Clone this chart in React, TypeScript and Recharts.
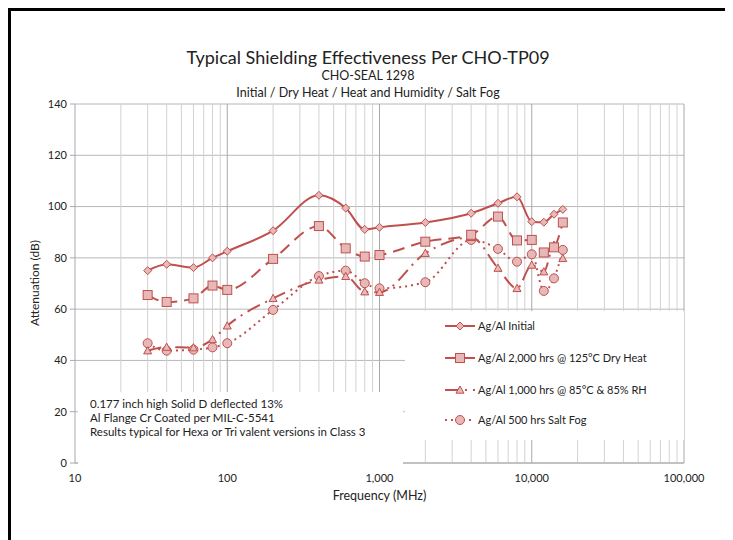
import React from 'react';
import { LineChart, Line, XAxis, YAxis, CartesianGrid, ReferenceLine, Legend } from 'recharts';

const frequencies = [30, 40, 60, 80, 100, 200, 400, 600, 800, 1000, 2000, 4000, 6000, 8000, 10000, 12000, 14000, 16000];
const initial = [75, 77.5, 76.2, 80, 82.6, 90.6, 104.4, 99.4, 91.1, 91.9, 93.8, 97.4, 101.3, 103.8, 94.1, 93.9, 97, 98.9];
const dryHeat = [65.5, 62.8, 64.2, 69.2, 67.5, 79.6, 92.4, 83.7, 80.5, 81.1, 86.3, 89, 96.1, 86.8, 87, 82.1, 84.1, 93.8];
const heatHumidity = [43.8, 45.2, 45, 48.2, 53.5, 64.2, 71.4, 72.8, 66.8, 66.6, 81.8, 88, 76, 68.1, 77.2, 74.6, 85, 79.8];
const saltFog = [46.7, 43.8, 44.2, 45.1, 46.7, 59.7, 72.9, 75, 70.1, 68.1, 70.5, 87, 83.5, 78.5, 81.4, 67.1, 72, 83.1];

const xTicks = [10, 100, 1000, 10000, 100000];
const yTicks = [0, 20, 40, 60, 80, 100, 120, 140];
const majorGrid = [100, 1000, 10000, 100000];
const minorGrid = [
  20, 30, 40, 50, 60, 70, 80, 90,
  200, 300, 400, 500, 600, 700, 800, 900,
  2000, 3000, 4000, 5000, 6000, 7000, 8000, 9000,
  20000, 30000, 40000, 50000, 60000, 70000, 80000, 90000,
];

const seriesNames = [
  'Ag/Al Initial',
  'Ag/Al 2,000 hrs @ 125°C Dry Heat',
  'Ag/Al 1,000 hrs @ 85°C & 85% RH',
  'Ag/Al 500 hrs Salt Fog',
];
const noteLines = [
  '0.177 inch high Solid D deflected 13%',
  'Al Flange Cr Coated per MIL-C-5541',
  'Results typical for Hexa or Tri valent versions in Class 3',
];

const data = frequencies.map((f, i) => ({
  f,
  initial: initial[i],
  dryHeat: dryHeat[i],
  heatHumidity: heatHumidity[i],
  saltFog: saltFog[i],
}));

const RED = '#c0504d';
const FILL = '#e6b9b8';
const FONT = 'Lato, "Open Sans", sans-serif';
const TEXT = '#222';

const Diamond = (p: any) => {
  const { cx, cy } = p;
  if (cx == null || cy == null) return null;
  const r = 4;
  return <path d={`M${cx},${cy - r}L${cx + r},${cy}L${cx},${cy + r}L${cx - r},${cy}Z`} fill={FILL} stroke={RED} strokeWidth={1} />;
};
const Square = (p: any) => {
  const { cx, cy } = p;
  if (cx == null || cy == null) return null;
  const r = 4.5;
  return <rect x={cx - r} y={cy - r} width={2 * r} height={2 * r} fill={FILL} stroke={RED} strokeWidth={1} />;
};
const Triangle = (p: any) => {
  const { cx, cy } = p;
  if (cx == null || cy == null) return null;
  const r = 4;
  return <path d={`M${cx},${cy - r}L${cx + r},${cy + r * 0.8}L${cx - r},${cy + r * 0.8}Z`} fill={FILL} stroke={RED} strokeWidth={1} />;
};
const Circle = (p: any) => {
  const { cx, cy } = p;
  if (cx == null || cy == null) return null;
  return <circle cx={cx} cy={cy} r={4.5} fill={FILL} stroke={RED} strokeWidth={1} />;
};

const styles = [
  { dash: undefined as string | undefined, Marker: Diamond },
  { dash: '12 7', Marker: Square },
  { dash: '14 6 2 6', Marker: Triangle },
  { dash: '2 4', Marker: Circle },
];

const LegendBox = () => (
  <div style={{ position: 'relative', width: 279, height: 129, background: '#fff', fontFamily: FONT, fontSize: 11, color: TEXT }}>
    {seriesNames.map((name, i) => {
      const top = [15, 46.5, 78.5, 109][i];
      const { dash, Marker } = styles[i];
      return (
        <div key={name} style={{ position: 'absolute', left: 0, top: top - 8, height: 16, width: 279 }}>
          <svg width={72} height={16} style={{ position: 'absolute', left: 38, top: 0 }}>
            <line x1={2} y1={8} x2={32} y2={8} stroke={RED} strokeWidth={2} strokeDasharray={dash} />
            <Marker cx={17} cy={8} />
          </svg>
          <span style={{ position: 'absolute', left: 73, top: 0, lineHeight: '16px', whiteSpace: 'nowrap' }}>{name}</span>
        </div>
      );
    })}
  </div>
);

const fmt = (v: number) => v.toLocaleString('en-US');

export default function App() {
  return (
    <div style={{ position: 'relative', width: 720, height: 540 }}>
      <div style={{ position: 'absolute', left: 0, top: 0, width: 714, height: 540, border: '3px solid #000' }} />
      <div style={{ position: 'absolute', left: 0, top: 0 }}>
        <LineChart width={720} height={532} data={data} margin={{ top: 96, right: 44, left: 0, bottom: 47 }}>
          <CartesianGrid vertical={false} stroke="#b8b8b8" strokeWidth={1} />
          {minorGrid.map((g) => (
            <ReferenceLine key={'m' + g} x={g} stroke="#d2d2d2" strokeWidth={1} />
          ))}
          {majorGrid.map((g) => (
            <ReferenceLine key={'M' + g} x={g} stroke="#a8a8a8" strokeWidth={1} />
          ))}
          <XAxis
            dataKey="f"
            type="number"
            scale="log"
            domain={[10, 100000]}
            ticks={xTicks}
            tickFormatter={fmt}
            allowDataOverflow
            height={30}
            tickLine={false}
            tickMargin={5}
            axisLine={{ stroke: '#a8a8a8' }}
            tick={{ fontSize: 11, fill: TEXT, fontFamily: FONT }}
          />
          <YAxis
            type="number"
            domain={[0, 140]}
            ticks={yTicks}
            width={67}
            tickSize={5}
            tickMargin={3}
            tickLine={{ stroke: '#a8a8a8' }}
            axisLine={{ stroke: '#a8a8a8' }}
            tick={{ fontSize: 11, fill: TEXT, fontFamily: FONT }}
          />
          <Legend
            layout="horizontal"
            verticalAlign="middle"
            align="center"
            wrapperStyle={{ position: 'absolute', left: 397, top: 303, width: 279, height: 129, margin: 0, padding: 0 }}
            content={() => <LegendBox />}
          />
          <Line dataKey="saltFog" name={seriesNames[3]} type="monotone" stroke={RED} strokeWidth={2} strokeDasharray="2 4" dot={<Circle />} activeDot={false} isAnimationActive={false} />
          <Line dataKey="heatHumidity" name={seriesNames[2]} type="monotone" stroke={RED} strokeWidth={2} strokeDasharray="14 6 2 6" dot={<Triangle />} activeDot={false} isAnimationActive={false} />
          <Line dataKey="dryHeat" name={seriesNames[1]} type="monotone" stroke={RED} strokeWidth={2} strokeDasharray="12 7" dot={<Square />} activeDot={false} isAnimationActive={false} />
          <Line dataKey="initial" name={seriesNames[0]} type="monotone" stroke={RED} strokeWidth={2} dot={<Diamond />} activeDot={false} isAnimationActive={false} />
        </LineChart>
      </div>
      <div style={{ position: 'absolute', left: 70, top: 384, width: 325, height: 72, background: '#fff', fontFamily: FONT, fontSize: 11.5, color: TEXT }}>
        {noteLines.map((t, i) => (
          <div key={t} style={{ position: 'absolute', left: 12, top: 5 + i * 14, lineHeight: '14px', whiteSpace: 'nowrap' }}>{t}</div>
        ))}
      </div>
      <div style={{ position: 'absolute', left: 0, width: 720, top: 40, textAlign: 'center', fontFamily: FONT, fontSize: 18, lineHeight: '18px', color: TEXT }}>
        Typical Shielding Effectiveness Per CHO-TP09
      </div>
      <div style={{ position: 'absolute', left: 0, width: 720, top: 60.5, textAlign: 'center', fontFamily: FONT, fontSize: 12.5, lineHeight: '13px', color: TEXT }}>
        CHO-SEAL 1298
      </div>
      <div style={{ position: 'absolute', left: 0, width: 720, top: 78, textAlign: 'center', fontFamily: FONT, fontSize: 12.5, lineHeight: '13px', color: TEXT }}>
        Initial / Dry Heat / Heat and Humidity / Salt Fog
      </div>
      <div style={{ position: 'absolute', left: 67, width: 609, top: 481, textAlign: 'center', fontFamily: FONT, fontSize: 12.5, lineHeight: '14px', color: TEXT }}>
        Frequency (MHz)
      </div>
      <div style={{ position: 'absolute', left: 27 - 100, top: 275 - 7, width: 200, textAlign: 'center', transform: 'rotate(-90deg)', fontFamily: FONT, fontSize: 12, lineHeight: '14px', color: TEXT }}>
        Attenuation (dB)
      </div>
    </div>
  );
}
